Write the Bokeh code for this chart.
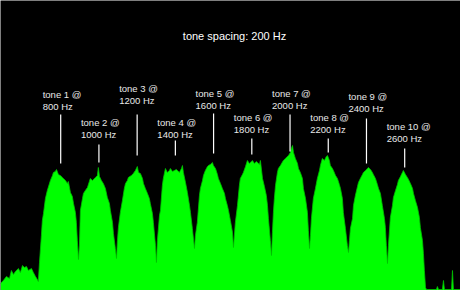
from bokeh.plotting import figure
from bokeh.models import ColumnDataSource, Range1d, Label
from bokeh.embed import file_html
from bokeh.resources import INLINE
from bokeh.core.properties import value

# ---- data: spectrum envelope (frequency in Hz, level in display units) ----
freq_hz = [485, 500, 516, 532, 542, 553, 563, 579, 589, 600, 610, 621, 631, 647, 657, 668, 678, 683,
           689, 699, 704, 710, 720, 730, 746, 757, 762, 772, 778, 788, 798, 809, 814, 825, 835, 840,
           851, 861, 867, 877, 882, 887, 893, 898, 903, 914, 919, 929, 940, 950, 955, 966, 982, 992,
           997, 1003, 1013, 1023, 1034, 1044, 1055, 1060, 1071, 1076, 1086, 1092, 1097, 1102, 1112,
           1123, 1133, 1139, 1149, 1154, 1170, 1180, 1191, 1201, 1207, 1217, 1228, 1233, 1243, 1254,
           1264, 1269, 1280, 1285, 1296, 1301, 1306, 1317, 1322, 1332, 1337, 1348, 1358, 1369, 1374,
           1385, 1395, 1405, 1411, 1421, 1432, 1437, 1442, 1453, 1463, 1474, 1479, 1489, 1500, 1505,
           1515, 1526, 1531, 1542, 1547, 1557, 1568, 1573, 1583, 1594, 1599, 1610, 1620, 1625, 1636,
           1646, 1657, 1662, 1672, 1678, 1688, 1699, 1704, 1714, 1725, 1735, 1740, 1751, 1756, 1767,
           1777, 1787, 1798, 1803, 1814, 1824, 1829, 1840, 1845, 1856, 1866, 1876, 1882, 1887, 1897,
           1903, 1908, 1913, 1918, 1924, 1934, 1939, 1950, 1965, 1976, 1986, 1992, 2002, 2007, 2013,
           2018, 2028, 2039, 2044, 2054, 2065, 2070, 2081, 2091, 2096, 2102, 2107, 2112, 2122, 2133,
           2143, 2154, 2159, 2169, 2180, 2190, 2196, 2206, 2211, 2222, 2227, 2238, 2248, 2258, 2264,
           2274, 2279, 2290, 2300, 2306, 2311, 2316, 2327, 2332, 2342, 2353, 2358, 2368, 2379, 2384,
           2395, 2405, 2410, 2421, 2431, 2436, 2447, 2457, 2463, 2473, 2483, 2494, 2499, 2504, 2510,
           2515, 2525, 2536, 2541, 2552, 2562, 2567, 2578, 2588, 2593, 2604, 2614, 2620, 2630, 2641,
           2646, 2656, 2667, 2677, 2682, 2693, 2698, 2703, 2709, 2714, 2766, 2771, 2777, 2797, 2803,
           2808, 2845, 2850, 2855, 2892]

level = [7, 10, 14, 12, 20, 16, 19, 22, 18, 25, 23, 24, 20, 22, 18, 14, 11, 9,
         28, 55, 70, 77, 92, 100, 110, 115, 118, 119, 121, 116, 115, 113, 112, 110, 107, 109,
         98, 94, 87, 78, 68, 50, 31, 45, 80, 92, 97, 100, 103, 109, 112, 110, 113, 115,
         123, 114, 110, 107, 102, 93, 87, 80, 68, 57, 42, 32, 50, 63, 78,
         90, 102, 107, 110, 113, 115, 117, 120, 124, 118, 117, 112, 107, 102, 97,
         92, 87, 77, 68, 45, 28, 50, 75, 80, 105, 112, 122, 118, 120, 122,
         119, 120, 121, 120, 118, 122, 125, 118, 108, 98, 85, 78, 62, 42, 55,
         68, 95, 102, 110, 115, 120, 124, 125, 126, 128, 125, 122, 116, 112, 107,
         102, 97, 92, 85, 80, 70, 58, 43, 68, 85, 105, 112, 116, 118, 124,
         130, 127, 129, 130, 127, 129, 128, 126, 130, 112, 104, 95, 85, 72, 50,
         35, 58, 78, 92, 105, 118, 122, 125, 130, 132, 134, 135, 138, 142, 145,
         138, 132, 127, 122, 118, 112, 102, 92, 78, 60, 42, 55, 72, 92, 102,
         112, 120, 125, 132, 130, 134, 135, 130, 125, 122, 120, 115, 112, 106, 102,
         92, 78, 62, 45, 38, 50, 62, 72, 85, 95, 104, 108, 112, 116, 118,
         120, 122, 123, 121, 118, 116, 112, 106, 102, 97, 85, 72, 63, 45, 27,
         45, 73, 85, 93, 100, 106, 110, 114, 118, 120, 116, 113, 111, 107, 102,
         97, 90, 83, 73, 63, 50, 37, 20, 3, 1, 1, 4, 1, 1, 10,
         1, 1, 20, 1, 1]

tone_names = ["tone 1 @", "tone 2 @", "tone 3 @", "tone 4 @", "tone 5 @",
              "tone 6 @", "tone 7 @", "tone 8 @", "tone 9 @", "tone 10 @"]
tone_freq = [800, 1000, 1200, 1400, 1600, 1800, 2000, 2200, 2400, 2600]
tone_freq_labels = ["800 Hz", "1000 Hz", "1200 Hz", "1400 Hz", "1600 Hz",
                    "1800 Hz", "2000 Hz", "2200 Hz", "2400 Hz", "2600 Hz"]
title_text = "tone spacing: 200 Hz"

# ---- layout of the annotations (levels in the same display units) ----
marker_top = [176, 146, 176, 150, 177, 152, 176, 152, 172, 142]
marker_bottom = [127, 128, 135, 135, 137, 136, 139, 138, 127, 123]
label_y = [184, 156, 190, 156, 185, 161, 185, 161, 182, 152]
label_y1 = [v + 12.5 for v in label_y]

W, H = 460, 290
p = figure(width=W, height=H, output_backend="svg", toolbar_location=None,
           x_range=Range1d(485, 2892), y_range=Range1d(0, 290),
           min_border=0, min_border_left=0, min_border_right=0,
           min_border_top=0, min_border_bottom=0)
p.axis.visible = False
p.grid.visible = False
p.outline_line_color = None
p.background_fill_color = "black"
p.border_fill_color = "black"

src = ColumnDataSource(dict(f=freq_hz, lv=level))
p.varea(x="f", y1=0, y2="lv", source=src, fill_color="#00ff00")
p.line(x="f", y="lv", source=src, line_color="#00c000", line_width=0.8)

msrc = ColumnDataSource(dict(f=tone_freq, top=marker_top, bot=marker_bottom,
                             n=tone_names, hz=tone_freq_labels, ly=label_y, ly1=label_y1))
p.segment(x0="f", y0="bot", x1="f", y1="top", source=msrc, line_color="white", line_width=1.2)
p.text(x="f", y="ly1", text="n", source=msrc, x_offset=-18, text_baseline="middle",
       text_align="left", text_color="#e8e8e8", text_font_size="9.5px",
       text_font=value("Liberation Sans"))
p.text(x="f", y="ly", text="hz", source=msrc, x_offset=-18, text_baseline="middle",
       text_align="left", text_color="#e8e8e8", text_font_size="9.5px",
       text_font=value("Liberation Sans"))

p.add_layout(Label(x=W / 2 + 4, y=H - 35, x_units="screen", y_units="screen", text=title_text,
                   text_align="center", text_baseline="middle", text_color="white",
                   text_font_size="11px", text_font="Liberation Sans"))

open("out.html", "w").write(file_html(p, INLINE))
